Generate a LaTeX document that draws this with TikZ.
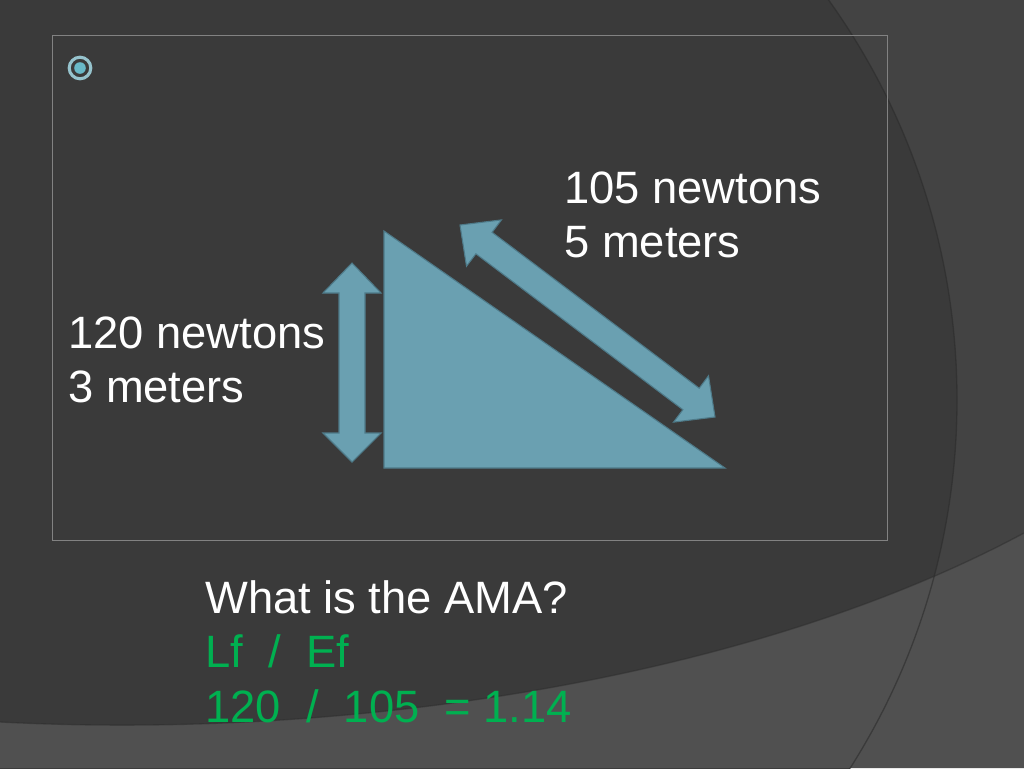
\documentclass[tikz,border=0pt]{standalone}
\usepackage{fontspec}
\setmainfont{Liberation Sans}
\definecolor{bgmain}{RGB}{58,58,58}
\definecolor{bgout}{RGB}{67,67,67}
\definecolor{bgband}{RGB}{80,80,80}
\definecolor{arcline}{RGB}{44,44,44}
\definecolor{framec}{RGB}{130,130,130}
\definecolor{shapec}{RGB}{106,160,177}
\definecolor{shapeedge}{RGB}{78,122,137}
\definecolor{ringc}{RGB}{150,195,205}
\definecolor{dotc}{RGB}{105,185,200}
\definecolor{ansgreen}{RGB}{0,176,80}
\tikzset{
  lbl/.style={anchor=base west, inner sep=0pt, text=white, font=\fontsize{34}{41}\selectfont},
  ans/.style={lbl, text=ansgreen},
  shp/.style={fill=shapec, draw=shapeedge, line width=0.8pt, line join=miter},
}
\begin{document}
\begin{tikzpicture}[x=0.75pt,y=-0.75pt]
\useasboundingbox (0,0) rectangle (1024,768);
\begin{scope}
  \clip (0,0) rectangle (1024,768);
  \fill[bgout] (0,0) rectangle (1024,768);
  \fill[bgmain] (270,400) circle[radius=687];
  \fill[bgband] (0,722) .. controls (350,740) and (750,680) .. (1024,533) -- (1024,768) -- (0,768) -- cycle;
  \draw[arcline, line width=1pt, opacity=0.6] (270,400) circle[radius=687];
  \draw[arcline, line width=1pt, opacity=0.5] (0,722) .. controls (350,740) and (750,680) .. (1024,533);
\end{scope}
% frame
\draw[framec, line width=0.75pt] (52,35) rectangle (887,540);
% bullet
\draw[ringc, line width=2.3pt] (80,68) circle[radius=10.8];
\fill[dotc] (80,68) circle[radius=5.8];
% triangle
\coordinate (ta) at (384,231);
\coordinate (tb) at (384,468);
\coordinate (tc) at (725,468);
\draw[shp] (ta) -- (tb) -- (tc) -- cycle;
% vertical double arrow
\draw[shp] (352,263) -- (381,293) -- (365,293) -- (365,433) -- (381,433) -- (352,462)
  -- (323,433) -- (339,433) -- (339,293) -- (323,293) -- cycle;
% diagonal double arrow
\draw[shp] (460,225) -- (501.4,219.9) -- (492.1,232.3) -- (699.2,388.2) -- (708.5,375.8)
  -- (715,417) -- (673.6,422.1) -- (682.9,409.7) -- (475.9,253.8) -- (466.5,266.2) -- cycle;
% labels
\node[lbl] (t1) at (564,203) {105 newtons};
\node[lbl] (t2) at (564,257) {5 meters};
\node[lbl] (t3) at (68,348) {120 newtons};
\node[lbl] (t4) at (68,402) {3 meters};
\node[lbl] (q) at (205,613) {What is the AMA?};
\node[ans] (f) at (205,667) {Lf\ \ /\ \ Ef};
\node[ans] (r) at (205,722) {120\ \ /\ \ 105\ \ = 1.14};
\end{tikzpicture}
\end{document}
